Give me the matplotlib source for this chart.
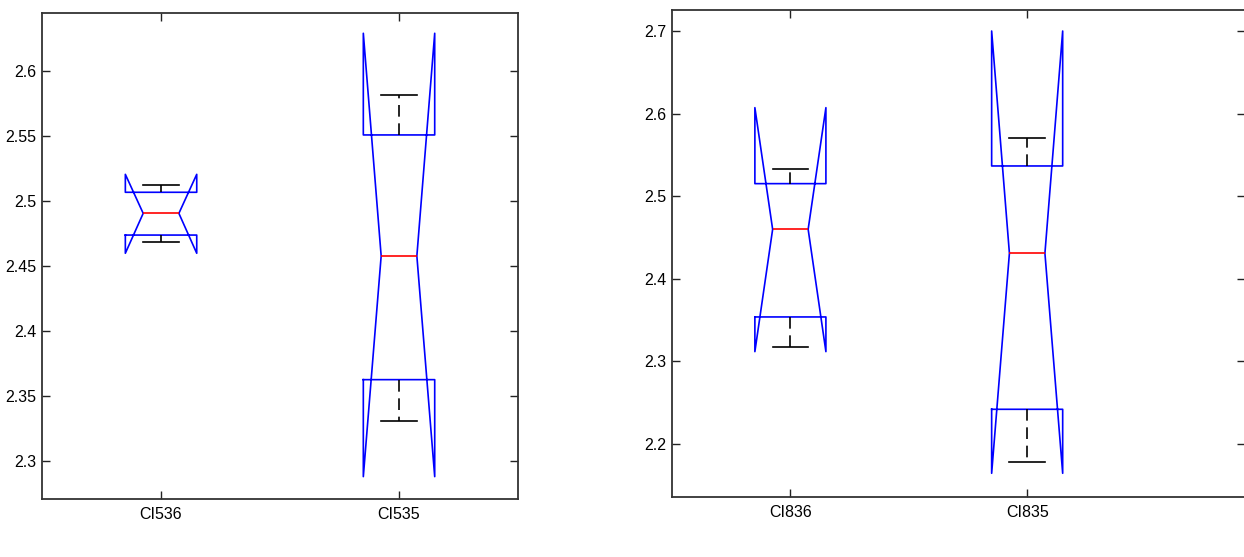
import numpy as np
import matplotlib.pyplot as plt
from matplotlib.ticker import FormatStrFormatter

# values (MATLAB style notched boxes)
left_names = ["CI536", "CI535"]
left_med = [2.4905, 2.4577]
left_q1 = [2.4738, 2.3626]
left_q3 = [2.5067, 2.5508]
left_cilo = [2.4598, 2.2880]
left_cihi = [2.5205, 2.6290]
left_whislo = [2.4687, 2.3308]
left_whishi = [2.5123, 2.5813]

right_names = ["CI836", "CI835"]
right_med = [2.4599, 2.4309]
right_q1 = [2.3538, 2.2420]
right_q3 = [2.5152, 2.5366]
right_cilo = [2.3118, 2.1645]
right_cihi = [2.6072, 2.7000]
right_whislo = [2.3171, 2.1778]
right_whishi = [2.5326, 2.5708]

plt.rcParams['font.family'] = ['Liberation Sans Narrow', 'Liberation Sans', 'DejaVu Sans']


def make_stats(names, med, q1, q3, cilo, cihi, whislo, whishi):
    stats = []
    for i in range(len(names)):
        stats.append(dict(label=names[i], med=med[i], q1=q1[i], q3=q3[i],
                          cilo=cilo[i], cihi=cihi[i],
                          whislo=whislo[i], whishi=whishi[i], fliers=[]))
    return stats


def draw_panel(ax, stats, xlim, ylim, yticks):
    ax.bxp(stats, positions=[1, 2], widths=0.3, shownotches=True,
           showfliers=False,
           boxprops=dict(color='blue', linewidth=1.2),
           medianprops=dict(color='red', linewidth=1.2),
           whiskerprops=dict(color='black', linewidth=1.2, linestyle=(0, (7, 4))),
           capprops=dict(color='black', linewidth=1.2))
    ax.set_xlim(xlim)
    ax.set_ylim(ylim)
    ax.set_yticks(yticks)
    ax.yaxis.set_major_formatter(FormatStrFormatter('%g'))
    ax.tick_params(direction='in', length=6, width=1, labelsize=11.5,
                   top=True, right=True, color='#222222')
    ax.tick_params(axis='y', pad=4)
    ax.tick_params(axis='x', pad=6)
    for s in ax.spines.values():
        s.set_color('#333333')
        s.set_linewidth(1.3)


fig = plt.figure(figsize=(12.44, 5.57), dpi=100)

ax1 = fig.add_axes([0.0338, 0.1041, 0.3826, 0.8726])
draw_panel(ax1, make_stats(left_names, left_med, left_q1, left_q3, left_cilo,
                           left_cihi, left_whislo, left_whishi),
           (0.5, 2.5), (2.2708, 2.6446), np.arange(2.3, 2.61, 0.05))

ax2 = fig.add_axes([0.5402, 0.1077, 0.4606, 0.8743])
draw_panel(ax2, make_stats(right_names, right_med, right_q1, right_q3, right_cilo,
                           right_cihi, right_whislo, right_whishi),
           (0.5, 2.92), (2.1358, 2.7254), np.arange(2.2, 2.71, 0.1))

plt.savefig('out.png', dpi=100)
